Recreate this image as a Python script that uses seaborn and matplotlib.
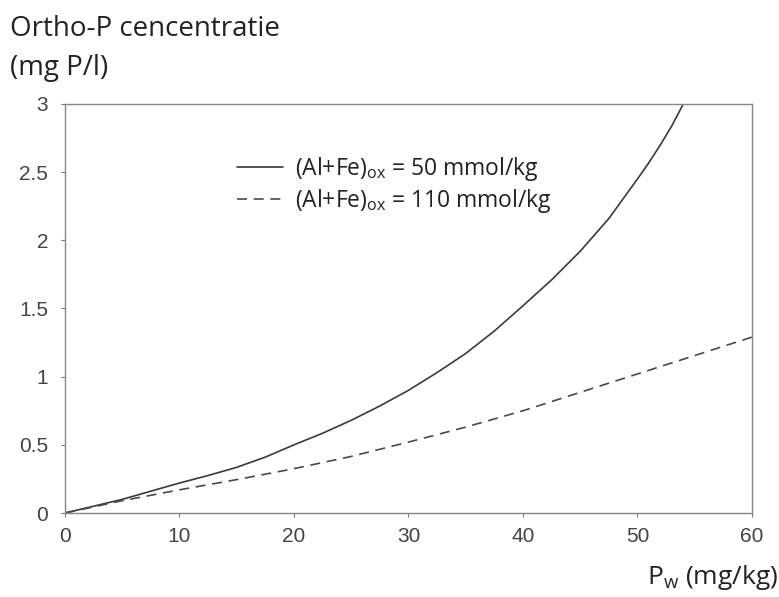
import matplotlib
matplotlib.use("Agg")
import matplotlib.pyplot as plt
import seaborn as sns
import pandas as pd

# waarden
pw_50 = [0, 2.5, 5, 7.5, 10, 12.5, 15, 17.5, 20, 22.5, 25, 27.5, 30, 32.5, 35,
         37.5, 40, 42.5, 45, 47.5, 50, 51, 52, 53, 54]
conc_50 = [0, 0.05, 0.1, 0.16, 0.22, 0.275, 0.335, 0.41, 0.5, 0.585, 0.68, 0.785, 0.9,
           1.03, 1.17, 1.335, 1.52, 1.71, 1.92, 2.16, 2.45, 2.57, 2.7, 2.84, 3.0]

pw_110 = [0, 5, 10, 15, 20, 25, 30, 35, 40, 45, 50, 55, 60]
conc_110 = [0, 0.09, 0.17, 0.245, 0.325, 0.415, 0.52, 0.63, 0.75, 0.885, 1.02, 1.155, 1.29]

labels = [r'(Al+Fe)$_{\mathregular{ox}}$ = 50 mmol/kg',
          r'(Al+Fe)$_{\mathregular{ox}}$ = 110 mmol/kg']

df = pd.concat([
    pd.DataFrame({'Pw': pw_50, 'conc': conc_50, 'serie': labels[0]}),
    pd.DataFrame({'Pw': pw_110, 'conc': conc_110, 'serie': labels[1]}),
])

sns.set_style("white")
plt.rcParams['font.family'] = ['Open Sans', 'DejaVu Sans']

fig = plt.figure(figsize=(7.79, 5.97), dpi=100)
ax = fig.add_axes([0.0834, 0.1407, 0.8819, 0.6851])

sns.lineplot(data=df, x='Pw', y='conc', hue='serie', style='serie',
             palette=['#3a3a3a', '#4a4a4a'], dashes=[(None, None), (6, 4)],
             linewidth=1.2, ax=ax, sort=False)

ax.set_xlim(0, 60)
ax.set_ylim(0, 3)
ax.set_xticks([0, 10, 20, 30, 40, 50, 60])
ax.set_yticks([0, 0.5, 1, 1.5, 2, 2.5, 3])
ax.set_yticklabels(['0', '0.5', '1', '1.5', '2', '2.5', '3'])
ax.tick_params(axis='both', labelsize=15, labelcolor='#444444', colors='#777777',
               length=3, width=0.8, direction='out', bottom=True, left=True)
ax.tick_params(axis='y', pad=9)
ax.tick_params(axis='x', pad=7)
for lab in ax.get_xticklabels() + ax.get_yticklabels():
    lab.set_family('Liberation Sans')
for sp in ax.spines.values():
    sp.set_color('#888888')
    sp.set_linewidth(1.0)
ax.set_xlabel('')
ax.set_ylabel('')

leg = ax.legend(loc='upper left', bbox_to_anchor=(0.25, 0.875), frameon=False,
                fontsize=16.5, handlelength=2.0, handletextpad=0.55, labelspacing=0.15,
                borderpad=0, borderaxespad=0)
for t in leg.get_texts():
    t.set_color('#222222')

fig.text(0.013, 0.94, 'Ortho-P cencentratie', fontsize=20, color='#222222', va='baseline')
fig.text(0.013, 0.875, '(mg P/l)', fontsize=20, color='#222222', va='baseline')
fig.text(0.999, 0.022, r'P$_{\mathregular{w}}$ (mg/kg)', fontsize=19, color='#222222',
         ha='right', va='baseline')

fig.savefig('out.png', dpi=100)
